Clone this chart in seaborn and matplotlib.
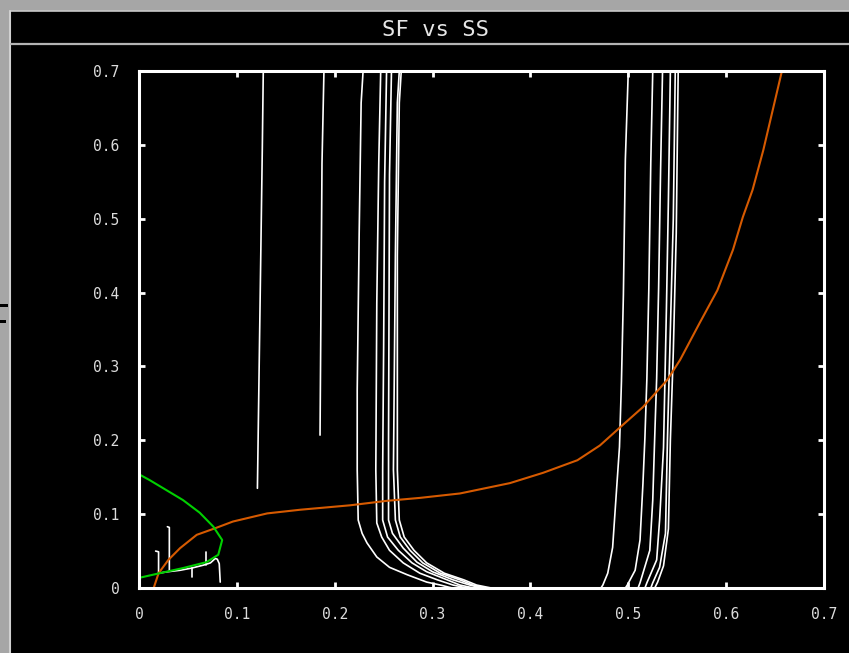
import matplotlib
matplotlib.use("Agg")
import matplotlib.pyplot as plt
from matplotlib.patches import Rectangle
from matplotlib.lines import Line2D
import numpy as np
import pandas as pd
import seaborn as sns

# ---------------- data ----------------
title = "SF vs SS"
tick_values = [0.0, 0.1, 0.2, 0.3, 0.4, 0.5, 0.6, 0.7]
tick_labels = ["0", "0.1", "0.2", "0.3", "0.4", "0.5", "0.6", "0.7"]

orange_x = [0.015, 0.020, 0.030, 0.042, 0.059, 0.078, 0.096, 0.131, 0.165, 0.216, 0.253,
            0.287, 0.328, 0.379, 0.413, 0.448, 0.471, 0.492, 0.515, 0.540, 0.553, 0.573,
            0.591, 0.607, 0.617, 0.627, 0.638, 0.657]
orange_y = [0.000, 0.020, 0.038, 0.054, 0.072, 0.081, 0.090, 0.101, 0.106, 0.112, 0.118,
            0.122, 0.128, 0.142, 0.156, 0.173, 0.193, 0.218, 0.245, 0.282, 0.309, 0.359,
            0.403, 0.458, 0.502, 0.539, 0.593, 0.700]

green_x = [0.000, 0.011, 0.045, 0.062, 0.076, 0.085, 0.081, 0.069, 0.045, 0.021, 0.001]
green_y = [0.154, 0.146, 0.119, 0.102, 0.083, 0.065, 0.045, 0.035, 0.027, 0.020, 0.014]

v1_x = [0.127, 0.126, 0.121]
v1_y = [0.700, 0.594, 0.135]
v2_x = [0.189, 0.187, 0.185]
v2_y = [0.700, 0.575, 0.207]

la_x = [0.229, 0.227, 0.225, 0.223, 0.223, 0.224, 0.228, 0.233, 0.243, 0.256, 0.274, 0.294, 0.308, 0.320]
la_y = [0.700, 0.657, 0.480, 0.268, 0.160, 0.092, 0.074, 0.061, 0.042, 0.028, 0.018, 0.008, 0.004, 0.000]
lb_x = [0.247, 0.245, 0.243, 0.242, 0.243, 0.248, 0.256, 0.270, 0.287, 0.305, 0.321, 0.335]
lb_y = [0.700, 0.575, 0.386, 0.160, 0.088, 0.069, 0.051, 0.034, 0.020, 0.011, 0.004, 0.000]
lc_x = [0.253, 0.251, 0.250, 0.249, 0.249, 0.254, 0.265, 0.279, 0.294, 0.315, 0.328, 0.342]
lc_y = [0.700, 0.550, 0.326, 0.160, 0.092, 0.069, 0.051, 0.034, 0.022, 0.011, 0.004, 0.000]
ld_x = [0.258, 0.256, 0.255, 0.255, 0.259, 0.270, 0.284, 0.300, 0.321, 0.338, 0.350]
ld_y = [0.700, 0.560, 0.200, 0.092, 0.074, 0.054, 0.035, 0.022, 0.011, 0.004, 0.000]
le_x = [0.266, 0.264, 0.262, 0.260, 0.262, 0.267, 0.277, 0.290, 0.308, 0.328, 0.341, 0.355]
le_y = [0.700, 0.657, 0.450, 0.160, 0.092, 0.069, 0.051, 0.034, 0.020, 0.011, 0.004, 0.000]
lf_x = [0.268, 0.266, 0.264, 0.264, 0.266, 0.271, 0.281, 0.294, 0.312, 0.332, 0.345, 0.360]
lf_y = [0.700, 0.657, 0.450, 0.160, 0.092, 0.069, 0.051, 0.034, 0.020, 0.011, 0.004, 0.000]

r1_x = [0.500, 0.497, 0.495, 0.493, 0.491, 0.488, 0.484, 0.479, 0.474, 0.472]
r1_y = [0.700, 0.580, 0.397, 0.279, 0.191, 0.133, 0.055, 0.020, 0.004, 0.000]
r2_x = [0.525, 0.523, 0.521, 0.519, 0.517, 0.515, 0.512, 0.507, 0.499, 0.497]
r2_y = [0.700, 0.577, 0.406, 0.284, 0.204, 0.142, 0.065, 0.024, 0.004, 0.000]
r3_x = [0.535, 0.533, 0.531, 0.529, 0.527, 0.525, 0.522, 0.512, 0.510]
r3_y = [0.700, 0.566, 0.406, 0.284, 0.204, 0.119, 0.051, 0.007, 0.000]
r4_x = [0.543, 0.541, 0.539, 0.536, 0.532, 0.529, 0.519, 0.517]
r4_y = [0.700, 0.525, 0.380, 0.190, 0.092, 0.038, 0.007, 0.000]
r5_x = [0.548, 0.546, 0.542, 0.540, 0.538, 0.532, 0.525, 0.523]
r5_y = [0.700, 0.500, 0.300, 0.200, 0.074, 0.028, 0.007, 0.000]
r6_x = [0.551, 0.549, 0.546, 0.543, 0.541, 0.536, 0.530, 0.527]
r6_y = [0.700, 0.480, 0.320, 0.200, 0.080, 0.030, 0.008, 0.000]

s1_x = [0.017, 0.020, 0.020]
s1_y = [0.050, 0.049, 0.020]
s2_x = [0.029, 0.031, 0.031]
s2_y = [0.083, 0.082, 0.024]
w_x = [0.020, 0.029, 0.042, 0.054, 0.066, 0.073, 0.078, 0.080, 0.082, 0.083]
w_y = [0.020, 0.022, 0.024, 0.027, 0.031, 0.034, 0.040, 0.039, 0.033, 0.008]
s3_x = [0.054, 0.054]
s3_y = [0.027, 0.015]
s4_x = [0.068, 0.068]
s4_y = [0.049, 0.031]

white_curves = {
    "v1": (v1_x, v1_y), "v2": (v2_x, v2_y),
    "la": (la_x, la_y), "lb": (lb_x, lb_y), "lc": (lc_x, lc_y),
    "ld": (ld_x, ld_y), "le": (le_x, le_y), "lf": (lf_x, lf_y),
    "r1": (r1_x, r1_y), "r2": (r2_x, r2_y), "r3": (r3_x, r3_y),
    "r4": (r4_x, r4_y), "r5": (r5_x, r5_y), "r6": (r6_x, r6_y),
    "s1": (s1_x, s1_y), "s2": (s2_x, s2_y), "w": (w_x, w_y),
    "s3": (s3_x, s3_y), "s4": (s4_x, s4_y),
}

rows = []
for name, (xs, ys) in white_curves.items():
    for x, y in zip(xs, ys):
        rows.append({"x": x, "y": y, "curve": name})
df_white = pd.DataFrame(rows)
df_orange = pd.DataFrame({"x": orange_x, "y": orange_y, "curve": "orange"})
df_green = pd.DataFrame({"x": green_x, "y": green_y, "curve": "green"})

# ---------------- figure ----------------
sns.set_theme(style="dark")
plt.rcParams["font.family"] = ["DejaVu Sans Mono", "DejaVu Sans"]

W, H = 849, 653
fig = plt.figure(figsize=(W / 100, H / 100), dpi=100, facecolor="#a6a6a6")

# window body (behind the axes)
fig.patches.append(Rectangle((10 / W, 0), (W - 10) / W, (H - 11) / H,
                             transform=fig.transFigure, facecolor="black",
                             edgecolor="none", zorder=-10))
# window borders
fig.lines.append(Line2D([10 / W, 1], [(H - 11) / H] * 2, transform=fig.transFigure,
                        color="#c8c8c8", lw=1.2, zorder=-5))
fig.lines.append(Line2D([10 / W] * 2, [0, (H - 11) / H], transform=fig.transFigure,
                        color="#d0d0d0", lw=1.5, zorder=-5))
fig.lines.append(Line2D([11 / W, 1], [(H - 44) / H] * 2, transform=fig.transFigure,
                        color="#b4b4b4", lw=1.6, zorder=-5))
# small marks on the desktop at left
fig.patches.append(Rectangle((0, (H - 307) / H), 8 / W, 3 / H, transform=fig.transFigure,
                             facecolor="black", edgecolor="none", zorder=-5))
fig.patches.append(Rectangle((0, (H - 323) / H), 6 / W, 3 / H, transform=fig.transFigure,
                             facecolor="black", edgecolor="none", zorder=-5))

fig.text(435 / W, (H - 30) / H, title, ha="center", va="center",
         color="#e6e6e6", fontsize=16)

ax = fig.add_axes([139 / W, (H - 588) / H, (824 - 139) / W, (588 - 71) / H])
ax.set_facecolor("black")

sns.lineplot(data=df_white, x="x", y="y", units="curve", estimator=None, sort=False,
             color="white", lw=1.2, ax=ax, legend=False)
sns.lineplot(data=df_orange, x="x", y="y", estimator=None, sort=False,
             color="#d65a00", lw=1.5, ax=ax, legend=False)
sns.lineplot(data=df_green, x="x", y="y", estimator=None, sort=False,
             color="#00d000", lw=1.5, ax=ax, legend=False)

ax.set_xlim(0, 0.7)
ax.set_ylim(0, 0.7)
ax.set_xlabel("")
ax.set_ylabel("")
ax.set_xticks(tick_values)
ax.set_yticks(tick_values)
ax.set_xticklabels(tick_labels)
ax.set_yticklabels(tick_labels)
ax.grid(False)
for s in ax.spines.values():
    s.set_visible(True)
    s.set_color("white")
    s.set_linewidth(2.2)
ax.tick_params(axis="both", which="both", direction="in", length=4, width=2,
               color="white", labelcolor="#dcdcdc", labelsize=10.5, pad=14,
               top=True, right=True, bottom=True, left=True)

fig.savefig("out.png", dpi=100, facecolor=fig.get_facecolor())
